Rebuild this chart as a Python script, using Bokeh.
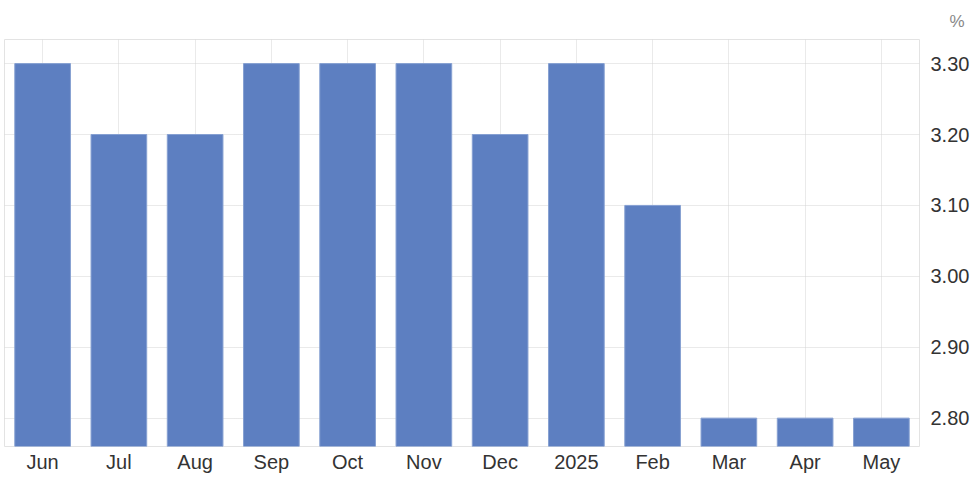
from bokeh.plotting import figure
from bokeh.models import ColumnDataSource, FactorRange, Range1d, Title, FixedTicker
from bokeh.embed import file_html
from bokeh.resources import INLINE

months = ["Jun", "Jul", "Aug", "Sep", "Oct", "Nov", "Dec", "2025", "Feb", "Mar", "Apr", "May"]
values = [3.3, 3.2, 3.2, 3.3, 3.3, 3.3, 3.2, 3.3, 3.1, 2.8, 2.8, 2.8]
y_ticks = [2.8, 2.9, 3.0, 3.1, 3.2, 3.3]
y_tick_labels = {2.8: "2.80", 2.9: "2.90", 3.0: "3.00", 3.1: "3.10", 3.2: "3.20", 3.3: "3.30"}
unit_label = "%"

W, H = 972, 477
src = ColumnDataSource(dict(m=months, v=values, b=[2.0] * len(values)))

p = figure(width=W, height=H, output_backend="svg", toolbar_location=None,
           x_range=FactorRange(*months, range_padding=0), y_range=Range1d(2.76, 3.334),
           y_axis_location="right", min_border_left=4, min_border_top=38,
           min_border_bottom=31, min_border_right=49)

p.vbar(x="m", top="v", bottom="b", width=0.73, source=src,
       fill_color="#5d7fc1", line_color="#86a0d2", line_width=1)

grid_color = "#d4d4d4"
for g in (p.xgrid, p.ygrid):
    g.grid_line_color = grid_color
    g.grid_line_dash = "1 1"
    g.grid_line_width = 1
p.xgrid.level = "underlay"

p.outline_line_color = "#e3e3e3"

font = "Liberation Sans"
p.yaxis.ticker = FixedTicker(ticks=y_ticks)
p.yaxis.major_label_overrides = y_tick_labels
for ax in (p.xaxis, p.yaxis):
    ax.axis_line_color = None
    ax.major_tick_line_color = None
    ax.minor_tick_line_color = None
    ax.major_label_text_font = font
    ax.major_label_text_font_size = "20px"
    ax.major_label_text_color = "#333333"
p.yaxis.major_label_standoff = 5
p.xaxis.major_label_standoff = -2

pct = Title(text=unit_label, align="right", offset=-45, standoff=18,
            text_font=font, text_font_size="17px", text_color="#888888",
            text_font_style="normal")
p.add_layout(pct, "above")

open("out.html", "w").write(file_html(p, INLINE))
